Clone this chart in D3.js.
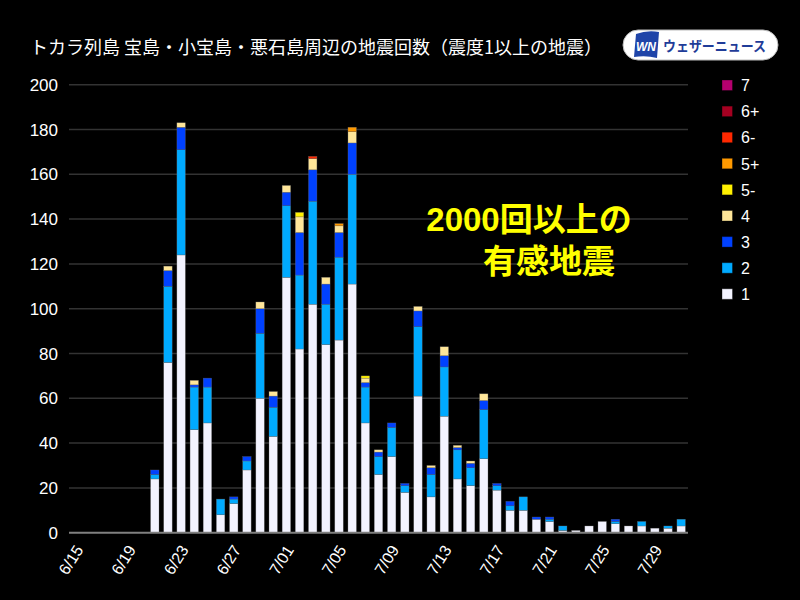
<!DOCTYPE html>
<html>
<head>
<meta charset="utf-8">
<script src="https://cdn.jsdelivr.net/npm/d3@7"></script>
<style>
  html, body { margin: 0; padding: 0; background: #000; }
  svg { display: block; }
</style>
</head>
<body>
<div id="wrapper"></div>
<script>
// Days shown on the x axis (6/15 - 7/31)
const dates = [
  "6/15","6/16","6/17","6/18","6/19","6/20","6/21","6/22","6/23","6/24",
  "6/25","6/26","6/27","6/28","6/29","6/30","7/01","7/02","7/03","7/04",
  "7/05","7/06","7/07","7/08","7/09","7/10","7/11","7/12","7/13","7/14",
  "7/15","7/16","7/17","7/18","7/19","7/20","7/21","7/22","7/23","7/24",
  "7/25","7/26","7/27","7/28","7/29","7/30","7/31"
];
const tickLabels = ["6/15","6/19","6/23","6/27","7/01","7/05","7/09","7/13","7/17","7/21","7/25","7/29"];
const yTicks = [0, 20, 40, 60, 80, 100, 120, 140, 160, 180, 200];

// Counts per seismic intensity, one value per day
const int1 = [0,0,0,0,0,0,24,76,124,46,49,8,13,28,60,43,114,82,102,84,86,111,49,26,34,18,61,16,52,24,21,33,19,10,10,6,5,1,1,3,5,4,3,3,2,2,3];
const int2 = [0,0,0,0,0,0,2,34,47,19,16,7,2,4,29,13,32,33,46,18,37,49,16,8,13,3,31,10,22,13,8,22,2,2,6,0,1,2,0,0,0,1,0,2,0,1,3];
const int3 = [0,0,0,0,0,0,2,7,10,1,4,0,1,2,11,5,6,19,14,9,11,14,2,2,2,1,7,3,5,1,2,4,1,2,0,1,1,0,0,0,0,1,0,0,0,0,0];
const int4 = [0,0,0,0,0,0,0,2,2,2,0,0,0,0,3,2,3,7,5,3,3,5,2,1,0,0,2,1,4,1,1,3,0,0,0,0,0,0,0,0,0,0,0,0,0,0,0];
const int5m = [0,0,0,0,0,0,0,0,0,0,0,0,0,0,0,0,0,2,0,0,0,0,1,0,0,0,0,0,0,0,0,0,0,0,0,0,0,0,0,0,0,0,0,0,0,0,0];
const int5p = [0,0,0,0,0,0,0,0,0,0,0,0,0,0,0,0,0,0,0,0,1,2,0,0,0,0,0,0,0,0,0,0,0,0,0,0,0,0,0,0,0,0,0,0,0,0,0];
const int6m = [0,0,0,0,0,0,0,0,0,0,0,0,0,0,0,0,0,0,1,0,0,0,0,0,0,0,0,0,0,0,0,0,0,0,0,0,0,0,0,0,0,0,0,0,0,0,0];
const int6p = [0,0,0,0,0,0,0,0,0,0,0,0,0,0,0,0,0,0,0,0,0,0,0,0,0,0,0,0,0,0,0,0,0,0,0,0,0,0,0,0,0,0,0,0,0,0,0];
const int7 = [0,0,0,0,0,0,0,0,0,0,0,0,0,0,0,0,0,0,0,0,0,0,0,0,0,0,0,0,0,0,0,0,0,0,0,0,0,0,0,0,0,0,0,0,0,0,0];

const levels = ["1", "2", "3", "4", "5-", "5+", "6-", "6+", "7"];
const levelColors = ["#f3f3ff", "#00aaff", "#0041ff", "#ffe699", "#fff000", "#ff9900", "#ff2800", "#a50021", "#b4006e"];

const title = "トカラ列島 宝島・小宝島・悪石島周辺の地震回数（震度1以上の地震）";
const noteLines = ["2000回以上の", "有感地震"];

const series = [int1, int2, int3, int4, int5m, int5p, int6m, int6p, int7];
const table = dates.map((d, i) => {
  const row = { date: d };
  levels.forEach((k, j) => { row[k] = series[j][i]; });
  return row;
});

const dimensions = {
  width: 800,
  height: 600,
  margins: { top: 84.7, right: 112, bottom: 67.3, left: 69 },
};
dimensions.boundedWidth = dimensions.width - dimensions.margins.left - dimensions.margins.right;
dimensions.boundedHeight = dimensions.height - dimensions.margins.top - dimensions.margins.bottom;

const jpFont = "'Noto Sans CJK JP', 'Liberation Sans', sans-serif";
const numFont = "'Liberation Sans', Arial, 'Noto Sans CJK JP', sans-serif";

const svg = d3.select("#wrapper")
  .append("svg")
    .attr("width", dimensions.width)
    .attr("height", dimensions.height);

svg.append("rect")
  .attr("width", dimensions.width)
  .attr("height", dimensions.height)
  .attr("fill", "#000");

const bounds = svg.append("g")
  .attr("transform", `translate(${dimensions.margins.left},${dimensions.margins.top})`);

const xScale = d3.scaleBand()
  .domain(dates)
  .range([0, dimensions.boundedWidth])
  .paddingInner(0.36)
  .paddingOuter(0.2);

const yScale = d3.scaleLinear()
  .domain([0, 200])
  .range([dimensions.boundedHeight, 0]);

// grid lines
bounds.append("g")
  .selectAll("line")
  .data(yTicks.filter(t => t > 0))
  .join("line")
    .attr("x1", 0)
    .attr("x2", dimensions.boundedWidth)
    .attr("y1", d => yScale(d))
    .attr("y2", d => yScale(d))
    .attr("stroke", "#333")
    .attr("stroke-width", 1.5);

// y labels
bounds.append("g")
  .selectAll("text")
  .data(yTicks)
  .join("text")
    .attr("x", -11)
    .attr("y", d => yScale(d))
    .attr("dy", "0.36em")
    .attr("text-anchor", "end")
    .attr("fill", "#fff")
    .style("font-family", numFont)
    .style("font-size", "17px")
    .text(d => d);

// stacked bars
const stacked = d3.stack().keys(levels)(table);
const color = d3.scaleOrdinal().domain(levels).range(levelColors);

bounds.append("g")
  .selectAll("g")
  .data(stacked)
  .join("g")
    .attr("fill", d => color(d.key))
  .selectAll("rect")
  .data(d => d.filter(p => p[1] - p[0] > 0))
  .join("rect")
    .attr("x", d => xScale(d.data.date))
    .attr("width", xScale.bandwidth())
    .attr("y", d => yScale(d[1]))
    .attr("height", d => yScale(d[0]) - yScale(d[1]))
    .attr("stroke", "rgba(110,110,110,0.6)")
    .attr("stroke-width", 0.5);

// baseline
bounds.append("line")
  .attr("x1", 0)
  .attr("x2", dimensions.boundedWidth)
  .attr("y1", yScale(0))
  .attr("y2", yScale(0))
  .attr("stroke", "#808080")
  .attr("stroke-width", 2);

// x labels
bounds.append("g")
  .selectAll("text")
  .data(tickLabels)
  .join("text")
    .attr("transform", d => `translate(${xScale(d) + xScale.bandwidth() / 2 + 8},${dimensions.boundedHeight + 17}) rotate(-58)`)
    .attr("text-anchor", "end")
    .attr("fill", "#fff")
    .style("font-family", numFont)
    .style("font-size", "16px")
    .text(d => d);

// legend
const legend = svg.append("g")
  .attr("transform", "translate(722,80)");
const legendItems = legend.selectAll("g")
  .data(levels.slice().reverse())
  .join("g")
    .attr("transform", (d, i) => `translate(0,${i * 26.1})`);
legendItems.append("rect")
  .attr("width", 10.5)
  .attr("height", 10.5)
  .attr("fill", d => color(d))
  .attr("stroke", "rgba(0,0,0,0.35)")
  .attr("stroke-width", 1);
legendItems.append("text")
  .attr("x", 19)
  .attr("y", 5.5)
  .attr("dy", "0.36em")
  .attr("fill", "#fff")
  .style("font-family", numFont)
  .style("font-size", "16px")
  .text(d => d);

// title
svg.append("text")
  .attr("x", 30)
  .attr("y", 54)
  .attr("fill", "#fff")
  .style("font-family", jpFont)
  .style("font-size", "18px")
  .text(title);

// annotation
const note = svg.append("g")
  .attr("fill", "#ffff00")
  .style("font-family", numFont)
  .style("font-size", "33px")
  .style("font-weight", "bold");
note.append("text").attr("x", 529).attr("y", 231).attr("text-anchor", "middle").text(noteLines[0]);
note.append("text").attr("x", 549).attr("y", 273).attr("text-anchor", "middle").text(noteLines[1]);

// weathernews logo
const logo = svg.append("g");
logo.append("rect")
  .attr("x", 623)
  .attr("y", 30)
  .attr("width", 155)
  .attr("height", 30)
  .attr("rx", 15)
  .attr("fill", "#fff")
  .attr("stroke", "#bbb")
  .attr("stroke-width", 1);
logo.append("path")
  .attr("d", "M636,34 Q647,30 659,32 L657,58 Q646,55 634,57 Z")
  .attr("fill", "#1f44a8");
logo.append("text")
  .attr("x", 646)
  .attr("y", 51)
  .attr("text-anchor", "middle")
  .attr("fill", "#fff")
  .style("font-family", numFont)
  .style("font-size", "13px")
  .style("font-weight", "bold")
  .style("font-style", "italic")
  .attr("textLength", 20)
  .attr("lengthAdjust", "spacingAndGlyphs")
  .text("WN");
logo.append("text")
  .attr("x", 663)
  .attr("y", 51)
  .attr("fill", "#1f3c98")
  .style("font-family", jpFont)
  .style("font-size", "14px")
  .style("font-weight", "bold")
  .attr("textLength", 103)
  .attr("lengthAdjust", "spacingAndGlyphs")
  .text("ウェザーニュース");
</script>
</body>
</html>
